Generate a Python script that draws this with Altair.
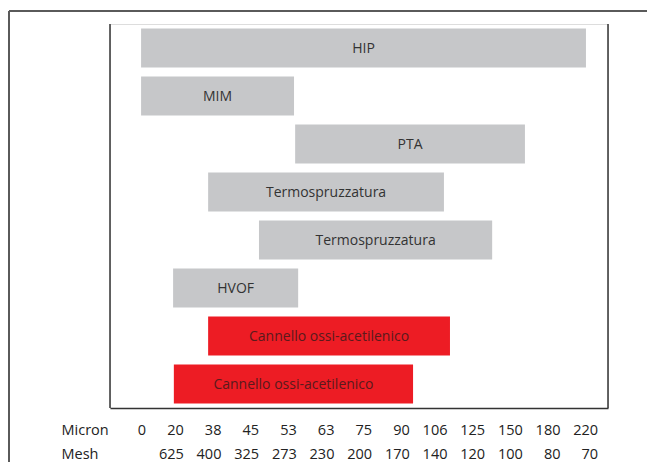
import json
import altair as alt
import pandas as pd

# Axis categories (index positions 0..12)
micron = ["0", "20", "38", "45", "53", "63", "75", "90", "106", "125", "150", "180", "220"]
mesh = ["", "625", "400", "325", "273", "230", "200", "170", "140", "120", "100", "80", "70"]

# Bars (start/end read in axis index units)
labels = ["HIP", "MIM", "PTA", "Termospruzzatura", "Termospruzzatura", "HVOF",
          "Cannello ossi-acetilenico", "Cannello ossi-acetilenico"]
starts = [-0.12, -0.12, 3.97, 1.66, 3.01, 0.73, 1.66, 0.75]
ends = [11.69, 3.94, 10.07, 7.92, 9.20, 4.05, 8.08, 7.10]
kinds = ["grigio", "grigio", "grigio", "grigio", "grigio", "grigio", "rosso", "rosso"]
rows = list(range(1, 9))

df = pd.DataFrame({"label": labels, "start": starts, "end": ends, "kind": kinds, "row": rows})

FONT = "Open Sans"
W, H = 498, 384
PL, PT, PR, PB = 102, 16, 39, 54

label_expr = f"[{json.dumps(micron)}[datum.value], {json.dumps(mesh)}[datum.value]]"

xscale = alt.Scale(domain=[-0.945, 12.275], nice=False, zero=False)
yscale = alt.Scale(paddingInner=0.1875, paddingOuter=0.09375)

base = alt.Chart(df)

bars = base.mark_bar(cornerRadius=0).encode(
    x=alt.X("start:Q", scale=xscale,
            axis=alt.Axis(values=list(range(13)), labelExpr=label_expr, grid=False,
                          ticks=False, tickSize=0, labelPadding=26, labelAlign="right",
                          labelBaseline="alphabetic", labelLineHeight=24,
                          labelFont=FONT, labelFontSize=14.5, labelColor="#222",
                          labelOverlap=False, labelFlush=False, labelBound=False,
                          domainColor="#333", domainWidth=1.5,
                          title=["Micron", "Mesh"], titleFont=FONT, titleFontSize=14.5,
                          titleFontWeight="normal", titleColor="#222", titleAlign="left",
                          titleBaseline="alphabetic", titleLineHeight=24,
                          titleX=-49, titleY=26, titleAnchor="start")),
    x2="end:Q",
    y=alt.Y("row:O", scale=yscale, axis=None),
    color=alt.Color("kind:N", scale=alt.Scale(domain=["grigio", "rosso"],
                                              range=["#C6C7C9", "#ED1C24"]), legend=None),
)

texts = base.transform_calculate(mid="(datum.start + datum.end) / 2").mark_text(
    font=FONT, fontSize=14, baseline="middle", align="center", dy=1
).encode(
    x=alt.X("mid:Q", scale=xscale),
    y=alt.Y("row:O", scale=yscale, axis=None),
    text="label:N",
    color=alt.Color("kind:N", scale=alt.Scale(domain=["grigio", "rosso"],
                                              range=["#333333", "#5a1a1c"]), legend=None),
)

one = alt.Data(values=[{"a": 1}])
box_l = alt.Chart(one).mark_rule(color="#333", strokeWidth=1.5).encode(
    x=alt.value(0), y=alt.value(0), y2=alt.value(H))
box_r = alt.Chart(one).mark_rule(color="#333", strokeWidth=1.5).encode(
    x=alt.value(W), y=alt.value(0), y2=alt.value(H))
frame_t = alt.Chart(one).mark_rule(color="#5a5a5a", strokeWidth=2).encode(
    x=alt.value(-101), x2=alt.value(W + PR), y=alt.value(-13))
frame_l = alt.Chart(one).mark_rule(color="#5a5a5a", strokeWidth=2).encode(
    x=alt.value(-101), y=alt.value(-13), y2=alt.value(H + PB))

chart = alt.layer(bars, texts, box_l, box_r, frame_t, frame_l).resolve_scale(
    color="independent"
).properties(
    width=W, height=H,
    padding={"left": PL, "top": PT, "right": PR, "bottom": PB},
    autosize=alt.AutoSizeParams(type="none"),
).configure_view(stroke=None).configure(background="white")

chart.save("out.html", embed_options={"renderer": "svg", "actions": False})
